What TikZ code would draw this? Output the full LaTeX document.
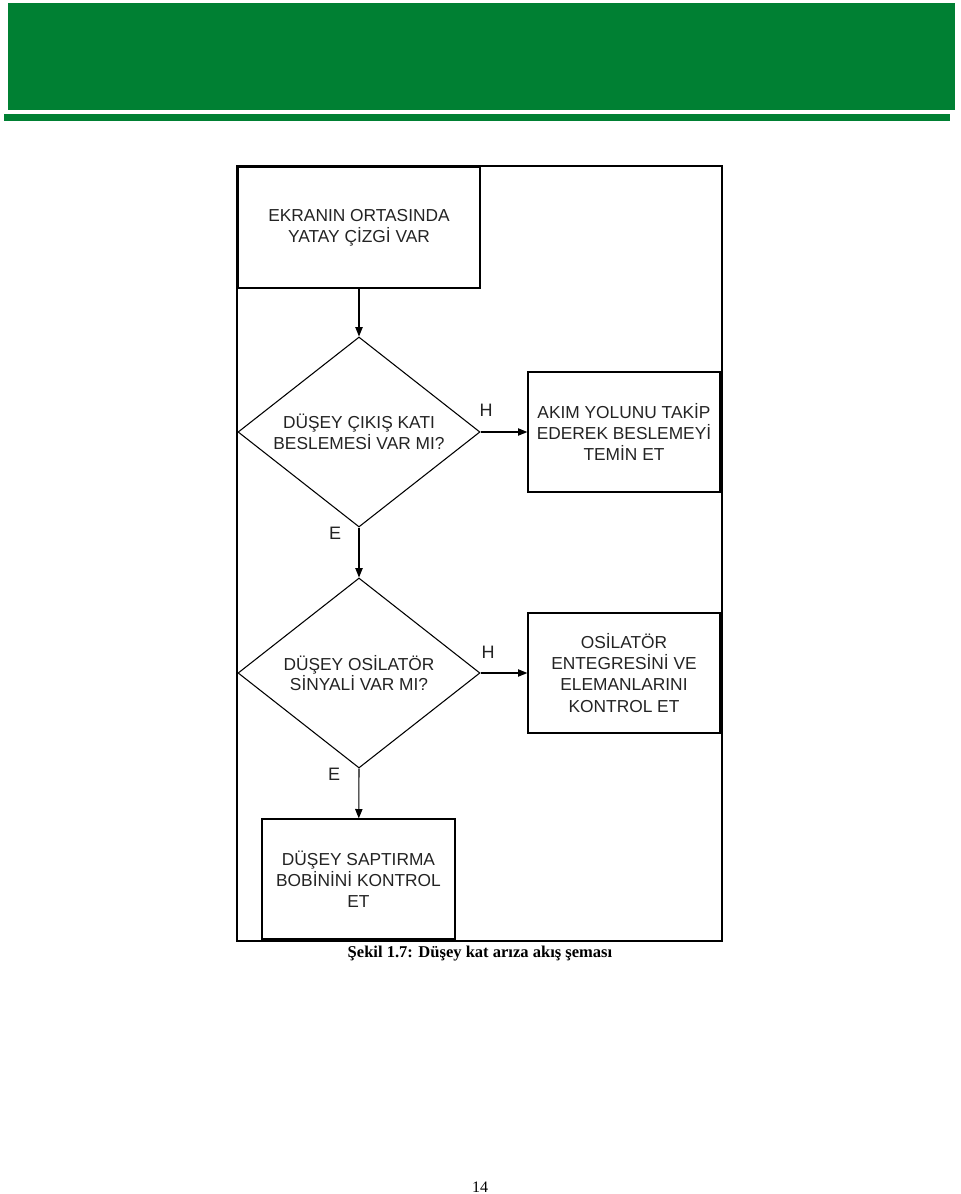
\documentclass[tikz,border=0pt]{standalone}
\usepackage{fontspec}
\setmainfont{Liberation Serif}
\newfontfamily\arialfont{Liberation Sans}
\usetikzlibrary{shapes.geometric,arrows.meta}

\definecolor{headgreen}{RGB}{0,128,51}
\definecolor{inkgray}{RGB}{35,35,35}

\tikzset{
  stepbox/.style={draw, rectangle, line width=1pt, inner sep=0pt, align=center,
    font=\arialfont\fontsize{13}{15.8}\selectfont, text=inkgray},
  decision/.style={draw, diamond, aspect=1.27, line width=0.8pt, inner sep=0pt, align=center,
    minimum width=181.5pt, minimum height=142.5pt,
    font=\arialfont\fontsize{13}{15.4}\selectfont, text=inkgray},
  answer/.style={font=\arialfont\fontsize{13.5}{15}\selectfont, text=inkgray},
  flow/.style={-{Triangle[length=7pt,width=5.5pt]}, line width=0.8pt}
}

\begin{document}
\begin{tikzpicture}[x=0.75pt, y=-0.75pt]
  \useasboundingbox (0,0) rectangle (960,1194);

  % Header
  \fill[headgreen] (8,3) rectangle (955,110);
  \fill[headgreen] (4,114) rectangle (950,121);

  % Frame
  \draw[line width=1.2pt] (237,166) rectangle (722,941);

  % Boxes
  \node[stepbox, minimum width=181.5pt, minimum height=90.75pt] (start) at (359,227.5)
    {EKRANIN ORTASINDA\\YATAY ÇİZGİ VAR};
  \node[decision] (q1) at (359,432) {DÜŞEY ÇIKIŞ KATI\\BESLEMESİ VAR MI?};
  \node[stepbox, minimum width=144pt, minimum height=90pt] (feed) at (624,432)
    {AKIM YOLUNU TAKİP\\EDEREK BESLEMEYİ\\TEMİN ET};
  \node[decision] (q2) at (359,673) {DÜŞEY OSİLATÖR\\SİNYALİ VAR MI?};
  \node[stepbox, minimum width=144pt, minimum height=90pt] (osc) at (624,673)
    {OSİLATÖR\\ENTEGRESİNİ VE\\ELEMANLARINI\\KONTROL ET};
  \node[stepbox, minimum width=144.75pt, minimum height=90pt] (coil) at (358.5,879)
    {DÜŞEY SAPTIRMA\\BOBİNİNİ KONTROL\\ET};

  % Arrows
  \draw[flow] (start) -- (q1);
  \draw[flow] (q1) -- (feed);
  \draw[flow] (q1) -- (q2);
  \draw[flow] (q2) -- (osc);
  \draw[flow] (q2.south) -- (coil);

  % Answers
  \node[answer] (h1) at (486,410) {H};
  \node[answer] (e1) at (335,533) {E};
  \node[answer] (h2) at (488,652) {H};
  \node[answer] (e2) at (334,774) {E};

  % Caption
  \node[font=\bfseries\fontsize{12.4}{14}\selectfont] (cap) at (480,954)
    {Şekil 1.7: Düşey kat arıza akış şeması};
  \node[font=\fontsize{12}{14}\selectfont] (page) at (480,1187) {14};
\end{tikzpicture}
\end{document}
